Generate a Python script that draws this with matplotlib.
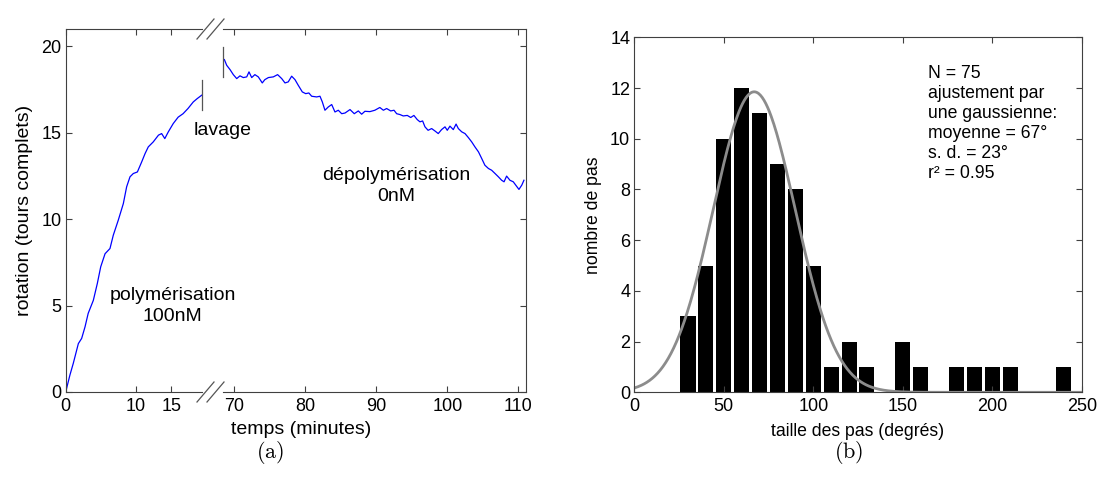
import numpy as np
import matplotlib
matplotlib.use('Agg')
import matplotlib.pyplot as plt
from matplotlib.lines import Line2D

plt.rcParams['font.family'] = ['Liberation Sans', 'DejaVu Sans']
plt.rcParams['mathtext.fontset'] = 'cm'

# ---------------- Panel (a): rotation trace ----------------
# polymerisation segment (100 nM), minutes 0 .. ~19.4
t_poly = [0.0, 0.6, 1.08, 1.8, 2.27, 2.75, 3.2, 3.93, 4.5, 4.98, 5.6, 6.3, 6.77,
          7.48, 8.2, 8.67, 9.15, 9.62, 10.2, 10.8, 11.3, 11.75, 12.46, 13.2,
          13.65, 14.1, 14.6, 15.3, 16.0, 16.7, 17.4, 18.15, 18.7, 19.35]
rot_poly = [0.0, 0.98, 1.66, 2.8, 3.1, 3.77, 4.55, 5.3, 6.28, 7.24, 8.0, 8.3, 9.07,
            9.94, 10.9, 11.87, 12.45, 12.64, 12.73, 13.3, 13.8, 14.18, 14.47, 14.86,
            14.95, 14.66, 15.05, 15.53, 15.9, 16.1, 16.4, 16.78, 16.97, 17.17]

# depolymerisation segment (0 nM), minutes ~68.5 .. 111
t_depoly = [68.6, 68.93, 69.4, 69.86, 70.34, 70.8, 71.27, 71.75, 72.07, 72.45, 72.9,
            73.38, 73.94, 74.3, 74.8, 75.5, 76.1, 76.68, 77.14, 77.6, 78.08, 78.55,
            79.0, 79.58, 80.06, 80.5, 80.9, 81.6, 82.07, 82.4, 82.77, 83.24, 83.72,
            84.18, 84.65, 85.13, 85.6, 86.3, 86.9, 87.47, 87.94, 88.4, 89.1, 89.8,
            90.5, 91.0, 91.46, 92.03, 92.5, 92.87, 93.34, 93.8, 94.37, 94.85, 95.3,
            95.77, 96.15, 96.53, 96.86, 97.3, 97.8, 98.27, 98.73, 99.2, 99.68, 100.0,
            100.38, 100.85, 101.24, 101.56, 102.04, 102.5, 102.97, 103.44, 103.9,
            104.4, 104.85, 105.3, 105.8, 106.25, 106.73, 107.2, 107.66, 108.0,
            108.36, 108.83, 109.3, 109.77, 110.1, 110.5, 110.8]
rot_depoly = [19.23, 18.9, 18.65, 18.36, 18.13, 18.29, 18.19, 18.23, 18.52, 18.19, 18.36,
              18.23, 17.88, 18.07, 18.19, 18.23, 18.36, 18.13, 17.88, 17.94, 18.27, 18.07,
              17.75, 17.36, 17.26, 17.3, 17.11, 17.07, 17.11, 16.78, 16.3, 16.49, 16.63,
              16.2, 16.3, 16.1, 16.14, 16.34, 16.1, 16.26, 16.07, 16.24, 16.22, 16.3,
              16.46, 16.3, 16.4, 16.26, 16.3, 16.1, 16.05, 15.97, 16.0, 15.88, 16.0,
              15.76, 15.63, 15.68, 15.34, 15.14, 15.24, 15.1, 14.95, 15.18, 15.34, 15.14,
              15.38, 15.18, 15.5, 15.24, 15.05, 14.95, 14.72, 14.47, 14.18,
              13.89, 13.51, 13.12, 12.93, 12.83, 12.64, 12.45, 12.25, 12.16,
              12.49, 12.25, 12.16, 11.9, 11.72, 11.97, 12.25]

# wash markers (start/end of 'lavage')
wash_end_t, wash_end_rot = 19.35, (16.3, 18.03)
wash_start_t, wash_start_rot = 68.45, (18.2, 19.96)

poly_ticks = [0, 10, 15]
depoly_ticks = [70, 80, 90, 100, 110]
rot_ticks = [0, 5, 10, 15, 20]

# ---------------- Panel (b): step-size histogram ----------------
step_centers = [30, 40, 50, 60, 70, 80, 90, 100, 110, 120, 130, 140, 150, 160,
                170, 180, 190, 200, 210, 220, 230, 240]
step_counts = [3, 5, 10, 12, 11, 9, 8, 5, 1, 2, 1, 0, 2, 1,
               0, 1, 1, 1, 1, 0, 0, 1]
fit_mean = 67.0
fit_sd = 23.0
fit_amplitude = 11.85
fit_text = ['N = 75', 'ajustement par', 'une gaussienne:',
            'moyenne = 67°', 's. d. = 23°', 'r² = 0.95']

W, H = 1099, 491
fig = plt.figure(figsize=(W / 100, H / 100), dpi=100)


def box(x0, y0, x1, y1):
    return [x0 / W, 1 - y1 / H, (x1 - x0) / W, (y1 - y0) / H]


SPINE = '#404040'
TICKFS = 13

axL = fig.add_axes(box(65.7, 29, 201.7, 392))
axR = fig.add_axes(box(223.3, 29, 525.7, 392))
axH = fig.add_axes(box(634.3, 37.3, 1081.7, 392.3))
axR.patch.set_visible(False)

for ax in (axL, axR, axH):
    for s in ax.spines.values():
        s.set_color(SPINE)
        s.set_linewidth(0.8)
    ax.tick_params(direction='in', length=4, width=0.8, color=SPINE,
                   labelsize=TICKFS, pad=4)

# left part
axL.plot(t_poly, rot_poly, color='#0000ff', lw=0.9)
axL.set_xlim(0, 19.35)
axL.set_ylim(0, 21)
axL.set_xticks(poly_ticks)
axL.set_yticks(rot_ticks)
axL.spines['right'].set_visible(False)
axL.tick_params(top=True, right=False)
axL.tick_params(axis='y', pad=3)
axL.set_ylabel('rotation (tours complets)', fontsize=14, labelpad=6)
axL.plot([wash_end_t, wash_end_t], wash_end_rot, color='#555555', lw=0.9,
         clip_on=False)
axL.text(15.18, 5.32, 'polymérisation', ha='center', va='baseline', fontsize=14,
         zorder=10)
axL.text(15.18, 4.10, '100nM', ha='center', va='baseline', fontsize=14,
         zorder=10)

# right part
axR.plot(t_depoly, rot_depoly, color='#0000ff', lw=0.9)
axR.set_xlim(68.45, 111.05)
axR.set_ylim(0, 21)
axR.set_xticks(depoly_ticks)
axR.set_yticks(rot_ticks)
axR.spines['left'].set_visible(False)
axR.tick_params(top=True, right=True, left=False, labelleft=False)
axR.plot([wash_start_t, wash_start_t], wash_start_rot, color='#555555', lw=0.9,
         clip_on=False)
axR.text(68.4, 14.86, 'lavage', ha='center', va='baseline', fontsize=14)
axR.text(92.86, 12.25, 'dépolymérisation', ha='center', va='baseline', fontsize=14)
axR.text(92.86, 11.04, '0nM', ha='center', va='baseline', fontsize=14)

fig.text(301 / W, 1 - 430 / H, 'temps (minutes)', ha='center', va='center',
         fontsize=14)

# break marks
for ybase in (29, 392):
    for dx in (0, 10):
        fig.add_artist(Line2D([(197 + dx) / W, (214 + dx) / W],
                              [1 - (ybase + 10) / H, 1 - (ybase - 10) / H],
                              color='#555555', lw=0.9))

# histogram
axH.bar(step_centers, step_counts, width=8.4, color='black')
xg = np.linspace(0, 250, 501)
axH.plot(xg, fit_amplitude * np.exp(-(xg - fit_mean) ** 2 / (2 * fit_sd ** 2)),
         color='#8c8c8c', lw=2)
axH.set_xlim(0, 250)
axH.set_ylim(0, 14)
axH.set_xticks([0, 50, 100, 150, 200, 250])
axH.set_yticks([0, 2, 4, 6, 8, 10, 12, 14])
axH.tick_params(top=True, right=True)
axH.tick_params(axis='y', pad=3)
axH.set_xlabel('taille des pas (degrés)', fontsize=12.7, labelpad=6)
axH.set_ylabel('nombre de pas', fontsize=12.7, labelpad=6)
for i, line in enumerate(fit_text):
    axH.text(164.3, 12.38 - i * 0.789, line, ha='left', va='baseline',
             fontsize=12.7)

fig.text(270 / W, 1 - 452 / H, r'$\mathrm{(a)}$', ha='center', va='center',
         fontsize=16)
fig.text(849 / W, 1 - 452 / H, r'$\mathrm{(b)}$', ha='center', va='center',
         fontsize=16)

fig.savefig('out.png', dpi=100)
